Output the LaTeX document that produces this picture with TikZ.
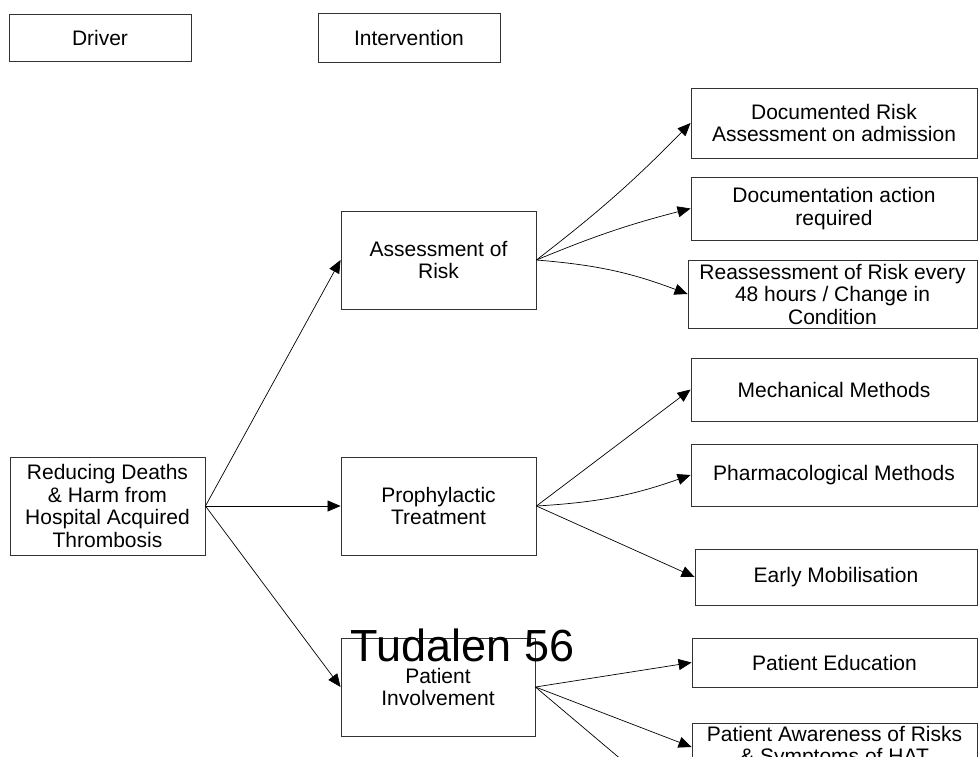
\documentclass[tikz,border=0pt]{standalone}
\usepackage{fontspec}
\setmainfont{Liberation Sans}
\usetikzlibrary{arrows.meta}
\tikzset{
  box/.style={draw=black!80, line width=0.9pt, align=center, inner sep=0pt,
    font=\fontsize{21}{22.5}\selectfont, text=black},
  conn/.style={line width=0.7pt, -{Triangle[length=13pt,width=11pt]}},
}
\begin{document}
\begin{tikzpicture}[x=1pt,y=-1pt]
\useasboundingbox (0,0) rectangle (978,756);
\clip (0,0) rectangle (978,756);
% header boxes
\node[box, minimum width=182pt, minimum height=47pt] (driver) at (100,37.5) {Driver};
\node[box, minimum width=182pt, minimum height=49pt] (interv) at (409,37.5) {Intervention};
% driver
\node[box, minimum width=195pt, minimum height=98pt] (reduce) at (107.5,506) {Reducing Deaths\\\& Harm from\\Hospital Acquired\\Thrombosis};
% interventions
\node[box, minimum width=195pt, minimum height=98pt] (assess) at (438.5,260) {Assessment of\\Risk};
\node[box, minimum width=195pt, minimum height=98pt] (proph) at (438.5,506) {Prophylactic\\Treatment};
\node[box, minimum width=194pt, minimum height=98pt] (patient) at (438,687) {Patient\\Involvement};
% right boxes
\node[box, minimum width=286pt, minimum height=70pt] (docrisk) at (834,123) {Documented Risk\\Assessment on admission};
\node[box, minimum width=286pt, minimum height=63pt] (docact) at (834,208.5) {Documentation action\\required};
\node[box, minimum width=289pt, minimum height=68pt] (reass) at (832.5,294) {Reassessment of Risk every\\48 hours / Change in\\Condition};
\node[box, minimum width=286pt, minimum height=63pt] (mech) at (834,389.5) {Mechanical Methods};
\node[box, minimum width=286pt, minimum height=62pt] (pharm) at (834,475) {Pharmacological Methods};
\node[box, minimum width=282pt, minimum height=56pt] (early) at (836,577) {Early Mobilisation};
\node[box, minimum width=285pt, minimum height=49pt] (pated) at (834.5,662.5) {Patient Education};
\node[box, minimum width=285pt, minimum height=48pt] (aware) at (834.5,747) {Patient Awareness of Risks\\\& Symptoms of HAT};
\coordinate (below) at (700,826);
% connectors
\draw[conn] (reduce.east) -- (assess.west);
\draw[conn] (reduce.east) -- (proph.west);
\draw[conn] (reduce.east) -- (patient.west);
\draw[conn] (assess.east) to[bend right=4] (docrisk.west);
\draw[conn] (assess.east) to[bend left=4] (docact.west);
\draw[conn] (assess.east) to[bend left=8] (reass.west);
\draw[conn] (proph.east) -- (mech.west);
\draw[conn] (proph.east) to[bend right=8] (pharm.west);
\draw[conn] (proph.east) -- (early.west);
\draw[conn] (patient.east) -- (pated.west);
\draw[conn] (patient.east) -- (aware.west);
\draw[conn] (patient.east) -- (below);
% page label
\node[anchor=base, inner sep=0pt, font=\fontsize{45}{48}\selectfont] (page) at (462.5,661) {Tudalen 56};
\end{tikzpicture}
\end{document}
